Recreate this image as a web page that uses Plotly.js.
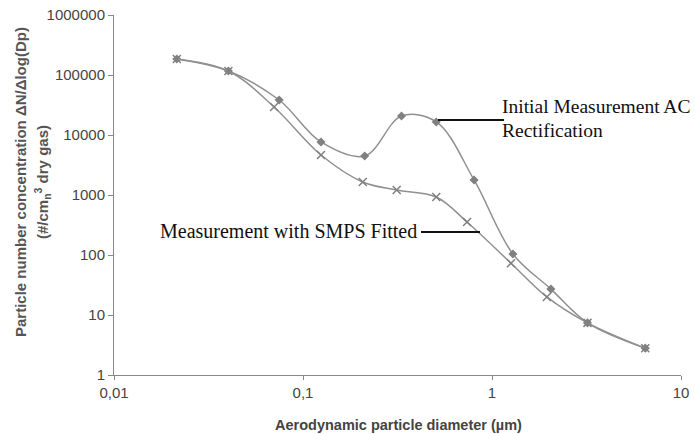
<!DOCTYPE html>
<html>
<head>
<meta charset="utf-8">
<script src="https://cdn.plot.ly/plotly-3.0.1.min.js"></script>
<style>html,body{margin:0;padding:0;background:#fff;}#chart{width:695px;height:434px;}</style>
</head>
<body>
<div id="chart"></div>
<script>
// Initial Measurement AC Rectification (diamonds)
const diamAC = [0.0215, 0.0403, 0.0748, 0.1245, 0.212, 0.332, 0.507, 0.804, 1.29, 2.05, 3.2, 6.47];
const concAC = [185000, 116600, 38300, 7650, 4470, 20700, 16500, 1780, 104, 27, 7.4, 2.8];
// Measurement with SMPS Fitted (crosses)
const diamSMPS = [0.0215, 0.0403, 0.0703, 0.1245, 0.207, 0.313, 0.507, 0.738, 1.26, 1.95, 3.2, 6.47];
const concSMPS = [185000, 116600, 29300, 4640, 1650, 1210, 926, 355, 73, 20, 7.4, 2.8];

const xTicks = [0.01, 0.1, 1, 10];
const xTickText = ['0,01', '0,1', '1', '10'];
const yTicks = [1, 10, 100, 1000, 10000, 100000, 1000000];
const yTickText = ['1', '10', '100', '1000', '10000', '100000', '1000000'];

const L = 114, R = 681, T = 15, B = 375;
const px = v => (v - L) / (R - L);
const py = v => (B - v) / (B - T);

const traces = [
  {x: diamAC, y: concAC, type: 'scatter', mode: 'lines+markers',
   line: {color: '#909090', width: 1.5, shape: 'spline', smoothing: 1},
   marker: {symbol: 'diamond', size: 7, color: '#808080'}},
  {x: diamSMPS, y: concSMPS, type: 'scatter', mode: 'lines+markers',
   line: {color: '#909090', width: 1.5, shape: 'spline', smoothing: 1},
   marker: {symbol: 'x-thin', size: 8, color: '#808080', line: {color: '#808080', width: 1.5}}}
];

const serif = 'Liberation Serif, Times New Roman, serif';

const layout = {
  width: 695, height: 434,
  margin: {l: L, r: 695 - R, t: T, b: 434 - B},
  paper_bgcolor: '#ffffff', plot_bgcolor: '#ffffff',
  showlegend: false,
  separators: ',.',
  font: {family: 'Liberation Sans, Arial, sans-serif', color: '#333'},
  xaxis: {type: 'log', range: [-2, 1], tickvals: xTicks, ticktext: xTickText,
    showgrid: false, zeroline: false, showline: true, linecolor: '#888', linewidth: 1,
    ticks: 'outside', ticklen: 4, tickcolor: '#888', tickfont: {size: 15, color: '#444'}},
  yaxis: {type: 'log', range: [0, 6], tickvals: yTicks, ticktext: yTickText,
    showgrid: false, zeroline: false, showline: true, linecolor: '#888', linewidth: 1,
    ticks: 'outside', ticklen: 5, tickcolor: '#888', tickfont: {size: 15, color: '#444'}},
  annotations: [
    {xref: 'paper', yref: 'paper', x: px(20), y: py(182), text: '<b>Particle number concentration ΔN/Δlog(Dp)</b>',
     textangle: -90, showarrow: false, xanchor: 'center', yanchor: 'middle', font: {size: 15, color: '#555'}},
    {xref: 'paper', yref: 'paper', x: px(42), y: py(182), text: '<b>(#/cm<sub>n</sub><sup>3</sup> dry gas)</b>',
     textangle: -90, showarrow: false, xanchor: 'center', yanchor: 'middle', font: {size: 15, color: '#555'}},
    {xref: 'paper', yref: 'paper', x: px(398), y: py(425), text: '<b>Aerodynamic particle diameter (µm)</b>',
     showarrow: false, xanchor: 'center', yanchor: 'middle', font: {size: 14.5, color: '#444'}},
    {xref: 'paper', yref: 'paper', x: px(500), y: py(106), text: 'Initial Measurement AC',
     showarrow: false, xanchor: 'left', yanchor: 'middle', font: {family: serif, size: 19.5, color: '#111'}},
    {xref: 'paper', yref: 'paper', x: px(500), y: py(130), text: 'Rectification',
     showarrow: false, xanchor: 'left', yanchor: 'middle', font: {family: serif, size: 19.5, color: '#111'}},
    {xref: 'paper', yref: 'paper', x: px(419), y: py(231), text: 'Measurement with SMPS Fitted',
     showarrow: false, xanchor: 'right', yanchor: 'middle', font: {family: serif, size: 20, color: '#111'}}
  ],
  shapes: [
    {type: 'line', xref: 'paper', yref: 'paper', x0: px(438), x1: px(504), y0: py(120), y1: py(120), line: {color: '#111', width: 2}},
    {type: 'line', xref: 'paper', yref: 'paper', x0: px(421), x1: px(480), y0: py(232), y1: py(232), line: {color: '#111', width: 2}}
  ]
};

Plotly.newPlot('chart', traces, layout, {staticPlot: true, displayModeBar: false});
</script>
</body>
</html>
